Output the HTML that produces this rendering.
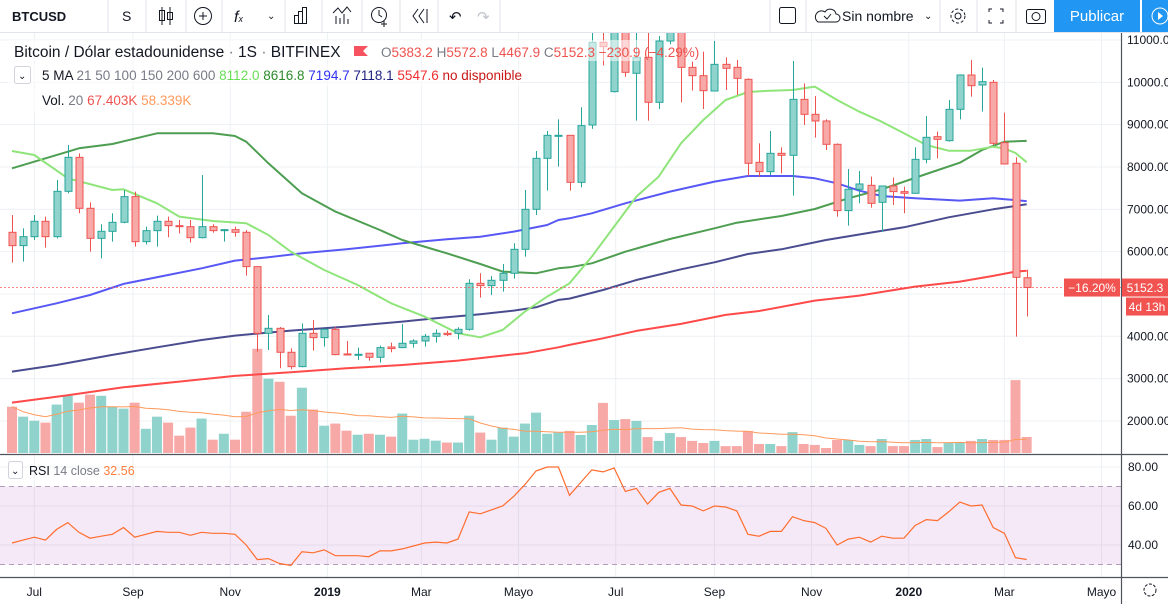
<!DOCTYPE html>
<html><head><meta charset="utf-8">
<style>
html,body{margin:0;padding:0;background:#fff;}
body{width:1168px;height:604px;overflow:hidden;font-family:"Liberation Sans",sans-serif;}
svg text{font-family:"Liberation Sans",sans-serif;}
</style></head>
<body>
<svg id="chart" width="1168" height="604" viewBox="0 0 1168 604" xmlns="http://www.w3.org/2000/svg">
  <defs><clipPath id="mainClip"><rect x="0" y="33" width="1121" height="421"/></clipPath></defs>
  <g>
    <rect x="0" y="0" width="1168" height="32" fill="#fff"/>
    <line x1="0" y1="32.5" x2="1168" y2="32.5" stroke="#e0e3eb"/>
    <text x="12" y="21" font-size="13" font-weight="bold" fill="#131722">BTCUSD</text>
    <line x1="108" y1="0" x2="108" y2="32" stroke="#e0e3eb"/>
    <text x="122" y="21" font-size="14" fill="#131722">S</text>
    <line x1="146" y1="0" x2="146" y2="32" stroke="#e0e3eb"/>
    <g stroke="#131722" fill="none">
      <line x1="162" y1="7" x2="162" y2="25"/><rect x="159.5" y="10.5" width="5" height="10"/>
      <line x1="170" y1="7" x2="170" y2="25"/><rect x="167.5" y="12.5" width="5" height="7"/>
    </g>
    <line x1="186" y1="0" x2="186" y2="32" stroke="#e0e3eb"/>
    <g stroke="#131722" fill="none">
      <circle cx="203" cy="16" r="8.5"/><line x1="199" y1="16" x2="207" y2="16"/><line x1="203" y1="12" x2="203" y2="20"/>
    </g>
    <line x1="222" y1="0" x2="222" y2="32" stroke="#e0e3eb"/>
    <text x="234" y="22" font-size="16" font-style="italic" fill="#131722">f<tspan font-size="9">x</tspan></text>
    <text x="267" y="19" font-size="10" fill="#131722">⌄</text>
    <line x1="285" y1="0" x2="285" y2="32" stroke="#e0e3eb"/>
    <g stroke="#131722" fill="none">
      <rect x="294.5" y="15.5" width="4" height="8"/><rect x="298.5" y="11.5" width="4" height="12"/><rect x="302.5" y="7.5" width="4" height="16"/>
    </g>
    <line x1="322" y1="0" x2="322" y2="32" stroke="#e0e3eb"/>
    <g stroke="#131722" fill="none">
      <polyline points="333,13 338,8 342,13 347,7 351,12"/><line x1="336" y1="16" x2="336" y2="24"/><line x1="340" y1="18" x2="340" y2="24"/><line x1="344" y1="14" x2="344" y2="24"/><line x1="348" y1="19" x2="348" y2="24"/>
    </g>
    <line x1="362" y1="0" x2="362" y2="32" stroke="#e0e3eb"/>
    <g stroke="#131722" fill="none">
      <circle cx="379" cy="15" r="7.5"/><polyline points="379,10 379,15 382,17"/><line x1="384" y1="21" x2="384" y2="27"/><line x1="381" y1="24" x2="387" y2="24"/>
    </g>
    <line x1="400" y1="0" x2="400" y2="32" stroke="#e0e3eb"/>
    <g stroke="#131722" fill="none">
      <polyline points="418,9 413,16 418,23"/><polyline points="424,9 419,16 424,23"/><line x1="427" y1="9" x2="427" y2="23"/>
    </g>
    <line x1="438" y1="0" x2="438" y2="32" stroke="#e0e3eb"/>
    <text x="449" y="22" font-size="15" fill="#131722">↶</text>
    <text x="477" y="22" font-size="15" fill="#c0c3cc">↷</text>
    <line x1="500" y1="0" x2="500" y2="32" stroke="#e0e3eb"/>
    <line x1="770" y1="0" x2="770" y2="32" stroke="#e0e3eb"/>
    <rect x="779.5" y="7.5" width="16" height="16" rx="2" fill="none" stroke="#131722"/>
    <line x1="806" y1="0" x2="806" y2="32" stroke="#e0e3eb"/>
    <g>
      <path d="M818 22 h18 a4 4 0 0 0 0-8 a6 6 0 0 0 -11-2 a5 5 0 0 0 -7 10z" fill="none" stroke="#131722"/>
      <polyline points="824,16 827,19 831,14" fill="none" stroke="#131722"/>
      <text x="842" y="21" font-size="14" fill="#131722">Sin nombre</text>
      <text x="924" y="19" font-size="10" fill="#131722">⌄</text>
    </g>
    <line x1="940" y1="0" x2="940" y2="32" stroke="#e0e3eb"/>
    <g fill="none" stroke="#131722">
      <circle cx="958" cy="16" r="7" stroke-dasharray="3 2"/><circle cx="958" cy="16" r="3"/>
    </g>
    <line x1="977" y1="0" x2="977" y2="32" stroke="#e0e3eb"/>
    <g stroke="#131722" fill="none">
      <polyline points="989,12 989,9 992,9"/><polyline points="1000,9 1003,9 1003,12"/><polyline points="989,20 989,23 992,23"/><polyline points="1000,23 1003,23 1003,20"/>
    </g>
    <line x1="1016" y1="0" x2="1016" y2="32" stroke="#e0e3eb"/>
    <g stroke="#131722" fill="none">
      <rect x="1026.5" y="9.5" width="19" height="14" rx="2"/><circle cx="1036" cy="16.5" r="4"/>
    </g>
    <rect x="1054" y="0" width="86" height="32" fill="#2196f3"/>
    <text x="1097" y="21" font-size="15" fill="#fff" text-anchor="middle">Publicar</text>
    <rect x="1142" y="0" width="26" height="32" fill="#2196f3"/>
    <circle cx="1160" cy="16" r="8" fill="none" stroke="#fff"/>
    <polygon points="1158,12 1158,20 1163,16" fill="#fff"/>
  </g>
  <g id="grid"></g>
  <g id="rsiBg"></g>
  <g id="volume" clip-path="url(#mainClip)"></g>
  <g id="mas" clip-path="url(#mainClip)"></g>
  <g id="candles" clip-path="url(#mainClip)"></g>
  <g id="axes"></g>
  <g>
    <rect x="8" y="40" width="632" height="21" fill="#fff" opacity="0.55"/>
    <rect x="8" y="64" width="512" height="22" fill="#fff" opacity="0.55"/>
    <rect x="8" y="89" width="190" height="22" fill="#fff" opacity="0.55"/>
    <text x="14" y="57" font-size="15.5" fill="#131722">Bitcoin / Dólar estadounidense <tspan fill="#787b86">·</tspan> 1S <tspan fill="#787b86">·</tspan> BITFINEX</text>
    <polygon points="354,46 368,46 363,51 368,56 354,56" fill="#f7525f"/>
    <text x="381" y="57" font-size="13.5" fill="#787b86">O<tspan fill="#ef5350">5383.2</tspan>  H<tspan fill="#ef5350">5572.8</tspan>  L<tspan fill="#ef5350">4467.9</tspan>  C<tspan fill="#ef5350">5152.3</tspan> <tspan fill="#ef5350">−230.9 (−4.29%)</tspan></text>
    <rect x="14.5" y="66.5" width="16" height="17" rx="2" fill="#fff" stroke="#d1d4dc"/>
    <text x="18" y="79" font-size="10" fill="#131722">⌄</text>
    <text x="42" y="80" font-size="13.5" fill="#131722">5 MA <tspan fill="#787b86">21 50 100 150 200 600</tspan>  <tspan fill="#66dd55">8112.0</tspan>  <tspan fill="#2e8b2e">8616.8</tspan>  <tspan fill="#2f2ff0">7194.7</tspan>  <tspan fill="#1e1e80">7118.1</tspan>  <tspan fill="#f03030">5547.6</tspan>  <tspan fill="#c81818">no disponible</tspan></text>
    <text x="42" y="105" font-size="13.5" fill="#131722">Vol. <tspan fill="#787b86">20</tspan>  <tspan fill="#ef5350">67.403K</tspan>  <tspan fill="#ff9a5c">58.339K</tspan></text>
    <rect x="8.5" y="461.5" width="14" height="17" rx="2" fill="#fff" stroke="#d1d4dc"/>
    <text x="11" y="474" font-size="10" fill="#131722">⌄</text>
    <text x="29" y="475" font-size="12.5" fill="#131722">RSI <tspan fill="#787b86">14 close</tspan>  <tspan fill="#ff7f3f">32.56</tspan></text>
  </g>
  <g id="labels"></g>
</svg>
<script>
const opens = [6457,6142,6354,6717,6354,7425,8228,7024,6315,6480,6693,7300,6236,6496,6717,6614,6590,6330,6590,6496,6520,6457,5646,4071,4189,3623,3284,4071,3969,4165,3583,3567,3600,3504,3748,3733,3835,3890,4000,4071,4071,4165,5252,5197,5323,5489,6055,7000,8205,8740,8748,7638,8992,10945,9780,11500,10213,10590,9528,10976,11800,10354,10157,9795,10425,10354,10071,8110,7890,8323,8276,9598,9244,9087,8536,6969,7473,7567,7166,7551,7418,7378,8181,8717,8622,9362,10173,9937,10000,8575,8087,5383.2];
const highs = [6866,6551,6866,6827,7693,8520,8323,7165,6646,6906,7457,7418,6590,6850,6827,6748,6748,7811,6646,6535,6590,6512,5646,4504,4220,3717,4307,4386,4181,4213,3890,3733,3600,3780,3851,4292,3930,4055,4165,4134,4213,5347,5489,5426,5709,6197,7457,8378,8850,9126,8748,9410,11200,11900,11800,11800,11500,11200,11094,12000,12000,10488,10724,10976,10590,10527,10094,8559,8850,8465,10504,9976,9677,9126,8559,7953,7906,7772,7551,7748,7536,8465,9205,8835,9583,10189,10527,10346,10055,9283,8229,5572.8];
const lows = [5740,5764,6276,6095,6315,7378,6906,6000,5843,6236,6670,6118,6173,6118,6339,6433,6213,6315,6449,6236,6354,5433,3638,3678,3245,3221,3268,3662,3756,3552,3552,3441,3425,3378,3623,3717,3733,3756,3851,4008,3930,4134,4914,4977,5055,5363,5882,6866,7441,8008,7441,7520,8900,10400,9760,10130,9095,9095,9370,10900,9528,9803,9370,9795,9819,9700,7795,7772,7811,7850,7323,8992,8693,8402,6827,6615,7142,7040,6473,7103,6906,7378,8087,8205,8598,9126,9661,9307,8520,8071,3993,4467.9];
const closes = [6142,6354,6717,6354,7425,8228,7024,6315,6480,6693,7300,6236,6496,6717,6614,6590,6330,6590,6496,6520,6457,5646,4071,4189,3623,3284,4071,3969,4165,3567,3567,3575,3504,3733,3710,3835,3890,4000,4071,4040,4165,5252,5197,5323,5489,6055,7000,8205,8748,8748,7638,8977,10945,10842,11500,10236,10590,9528,10976,11800,10354,10157,9803,10425,10331,10094,8087,7890,8323,8276,9598,9244,9087,8536,6969,7473,7599,7142,7551,7418,7378,8181,8701,8654,9362,10173,9921,10016,8559,8071,5394,5152.3];
const volumes = [195,153,136,128,204,241,212,246,241,195,187,212,102,153,128,73,107,145,56,81,56,174,439,313,300,157,275,183,115,124,94,77,81,77,69,166,56,60,52,44,44,157,86,56,107,69,124,170,81,86,93,76,118,211,139,143,135,67,51,84,67,51,42,51,29,29,93,38,38,29,88,38,34,21,55,55,34,29,59,29,29,55,59,25,42,46,51,59,55,55,307,67.4];
const rsiValues = [41,42.5,44,42.5,48,51.5,46.5,43.5,44.5,45.5,49,44,45.5,47,46.5,46.5,45,46.5,46,46,45.5,40,32.5,33,30.5,29.5,36.5,36,37.5,34.5,34.5,34.5,34,37,37,38,39.5,41,41.5,41,43,57,56,58,60,65,71,78,80,80,65.5,72,78.5,77.5,79.5,67.5,69,61,67,69,60.5,60,57.5,60,59.5,57.5,45.5,44.5,47,47,54.5,52.5,51.5,48.5,40,43,44,41.5,44.5,43.5,43.5,50,53,52.5,57,62,60,60.5,49,46,33.5,32.56];
const ma21Idx = [0,2,5,9,10,13,15,18,21,23,25,28,31,34,37,40,42,44,46,48,49,50,52,54,56,58,60,62,64,66,68,70,72,74,76,78,80,82,84,86,88,89,90,91];
const ma21Val = [8378,8283,7732,7457,7472,7142,6827,6725,6670,6394,6000,5567,5213,4780,4465,4071,3977,4150,4583,4937,5095,5252,5882,6591,7300,7772,8559,9110,9583,9772,9803,9819,9898,9583,9307,9071,8796,8520,8386,8386,8480,8440,8330,8112];
const ma50Idx = [0,5,6,9,13,18,20,21,23,26,29,33,35,38,39,42,44,47,49,50,52,55,59,63,65,69,72,75,78,82,85,87,89,91];
const ma50Val = [7968,8362,8441,8543,8795,8795,8732,8598,8087,7378,6945,6512,6276,6040,5961,5709,5528,5488,5607,5630,5725,6000,6300,6552,6685,6843,7008,7260,7473,7835,8102,8402,8598,8617];
const ma100Idx = [0,4,7,10,14,17,20,23,26,30,35,39,42,45,48,49,50,52,55,59,63,66,70,72,74,76,78,81,85,88,91];
const ma100Val = [4544,4780,4977,5237,5449,5607,5788,5866,5961,6055,6197,6291,6354,6473,6630,6748,6788,6906,7142,7418,7654,7788,7788,7733,7614,7441,7315,7260,7205,7260,7195];
const ma150Idx = [0,4,9,13,17,20,25,30,35,38,42,45,47,49,50,53,56,60,63,66,69,73,77,80,84,88,91];
const ma150Val = [3166,3323,3560,3741,3914,4016,4134,4229,4347,4426,4520,4607,4685,4859,4890,5095,5331,5583,5748,5945,6055,6276,6449,6575,6812,7000,7118];
const ma200Idx = [0,5,10,15,20,25,30,35,40,44,46,49,50,53,56,60,64,67,72,76,81,85,88,90,91];
const ma200Val = [2434,2607,2796,2930,3064,3150,3244,3323,3426,3544,3599,3741,3796,3953,4127,4292,4505,4599,4843,4961,5174,5292,5426,5528,5548];
const priceTicks = [11000,10000,9000,8000,7000,6000,4000,3000,2000];
const rsiTicks = [80,60,40];
const monthLabels = ["Jul","Sep","Nov","2019","Mar","Mayo","Jul","Sep","Nov","2020","Mar","Mayo"];
const monthDays = [14,76,137,198,257,318,379,441,502,563,623,684];

const NS = "http://www.w3.org/2000/svg";
const xOf = i => 12 + i * 11.15;
const xDay = d => 12 + d / 7 * 11.15;
const yP = p => 40 + (11000 - p) * 0.04233;
const yV = v => 453 - v * 0.2374;
const yR = v => 467 + (80 - v) * 1.95;
function mk(tag, attrs, parent) {
  const e = document.createElementNS(NS, tag);
  for (const k in attrs) e.setAttribute(k, attrs[k]);
  parent.appendChild(e);
  return e;
}
const grid = document.getElementById('grid');
const axes = document.getElementById('axes');
[11000,10000,9000,8000,7000,6000,5000,4000,3000,2000].forEach(p => {
  const l = mk('line', {x1:0, x2:1121, y1:yP(p), y2:yP(p), stroke:'#edf0f4'}, grid);
  
  
});
[80,60,40].forEach(v => {
  const l = mk('line', {x1:0, x2:1121, y1:yR(v), y2:yR(v), stroke:'#edf0f4'}, grid);
  
  
});
monthDays.forEach(d => {
  const l = mk('line', {x1:xDay(d), x2:xDay(d), y1:33, y2:578, stroke:'#edf0f4'}, grid);
  
  
});
const rb = document.getElementById('rsiBg');
const band = mk('rect', {x:0, y:yR(70), width:1121, height:yR(30)-yR(70), fill:'#9c27b0', 'fill-opacity':0.1}, rb);


[70,30].forEach(v => {
  const l = mk('line', {x1:0, x2:1121, y1:yR(v), y2:yR(v), stroke:'#b39db8', 'stroke-dasharray':'5 4'}, rb);
  
  
});
let rpts = rsiValues.map((v,i) => xOf(i).toFixed(1) + ',' + yR(v).toFixed(1)).join(' ');
const rl = mk('polyline', {points:rpts, fill:'none', stroke:'#ff6d2e', 'stroke-width':1.2}, rb);


const vg = document.getElementById('volume');
volumes.forEach((v,i) => {
  const up = closes[i] >= opens[i];
  const r = mk('rect', {x:xOf(i)-5, y:yV(v), width:10, height:453-yV(v), fill: up ? '#8fd3cc' : '#f7a9a7'}, vg);
  
  
});
let vma = volumes.map((v,i) => { const s = volumes.slice(Math.max(0,i-19), i+1); return s.reduce((a,b)=>a+b,0)/s.length; });
const vl = mk('polyline', {points: vma.map((v,i)=>xOf(i).toFixed(1)+','+yV(v).toFixed(1)).join(' '), fill:'none', stroke:'#ff9a5c', 'stroke-width':1}, vg);


const mg = document.getElementById('mas');
[[ma200Idx,ma200Val,'#ff4a4a','ma200-line'],[ma150Idx,ma150Val,'#4a4c90','ma150-line'],[ma100Idx,ma100Val,'#5858f5','ma100-line'],[ma50Idx,ma50Val,'#4e9e52','ma50-line'],[ma21Idx,ma21Val,'#8fe57a','ma21-line']].forEach(([ix,vals,col,name]) => {
  const pl = mk('polyline', {points: ix.map((k,j)=>xOf(k).toFixed(1)+','+yP(vals[j]).toFixed(1)).join(' '), fill:'none', stroke:col, 'stroke-width':2, 'stroke-linejoin':'round'}, mg);
  
  
});
const cg = document.getElementById('candles');
closes.forEach((c,i) => {
  const o = opens[i], up = c >= o;
  const stroke = up ? '#26a69a' : '#ef5350', fill = up ? '#8fd3cc' : '#f7a9a7';
  const g = mk('g', {}, cg);
  
  
  const x = Math.round(xOf(i)) + 0.5;
  mk('line', {x1:x, x2:x, y1:yP(highs[i]), y2:yP(lows[i]), stroke:stroke}, g);
  const t = yP(Math.max(o,c)), b = yP(Math.min(o,c));
  mk('rect', {x:x-3.5, y:t, width:7, height:Math.max(1,b-t), fill:fill, stroke:stroke}, g);
});
const lp = mk('line', {x1:0, x2:1121, y1:yP(closes[closes.length-1]), y2:yP(closes[closes.length-1]), stroke:'#ef5350', 'stroke-dasharray':'2 2', 'stroke-opacity':0.7}, axes);


[[0,454.5,1168,454.5],[0,577.5,1168,577.5],[1121.5,33,1121.5,604]].forEach(a => {
  const l = mk('line', {x1:a[0], y1:a[1], x2:a[2], y2:a[3], stroke:'#50535e', 'stroke-width':1.2}, axes);
  
  
});
priceTicks.forEach(p => {
  const t = mk('text', {x:1127, y:yP(p)+4, 'font-size':12, fill:'#131722'}, axes);
  t.textContent = p.toFixed(2);
  
  
});
rsiTicks.forEach(v => {
  const t = mk('text', {x:1128, y:yR(v)+4, 'font-size':12, fill:'#131722'}, axes);
  t.textContent = v.toFixed(2);
  
  
});
monthLabels.forEach((m,k) => {
  const bold = /^\d+$/.test(m);
  const t = mk('text', {x:xDay(monthDays[k]), y:596, 'font-size':12, 'text-anchor':'middle', fill:'#131722', 'font-weight': bold ? 'bold' : 'normal'}, axes);
  t.textContent = m;
  
  
});
const gear = mk('circle', {cx:1150, cy:590, r:6, fill:'none', stroke:'#131722', 'stroke-dasharray':'3 1.5'}, axes);


const lg = document.getElementById('labels');
const ly = yP(closes[closes.length-1]);
[[1064,56,'−16.20%','percent-change-label'],[1122,46,'5152.3','last-price-label']].forEach(([x,w,txt,name]) => {
  const g = mk('g', {}, lg);
  
  
  mk('rect', {x:x, y:ly-9, width:w, height:18, fill:'#f05350'}, g);
  const t = mk('text', {x:x+w/2, y:ly+4.5, 'font-size':12, fill:'#fff', 'text-anchor':'middle'}, g);
  t.textContent = txt;
});
const cd = mk('g', {}, lg);


mk('rect', {x:1126, y:ly+10, width:42, height:18, fill:'#f05350'}, cd);
const ct = mk('text', {x:1147, y:ly+23.5, 'font-size':12, fill:'#fff', 'text-anchor':'middle'}, cd);
ct.textContent = '4d 13h';
</script>
</body></html>
